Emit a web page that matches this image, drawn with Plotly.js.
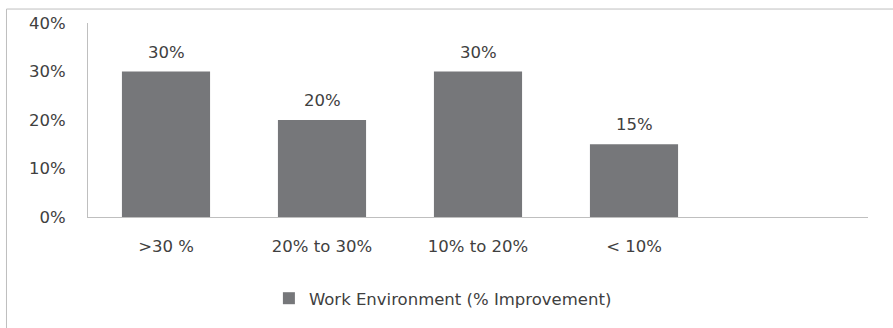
<!DOCTYPE html>
<html><head><meta charset="utf-8">
<script src="https://cdn.plot.ly/plotly-3.0.1.min.js"></script>
<style>html,body{margin:0;padding:0;background:#fff;overflow:hidden}#chart{width:893px;height:328px}</style>
</head><body><div id="chart"></div>
<script>
var categories = ['>30 %', '20% to 30%', '10% to 20%', '< 10%'];
var values = [0.30, 0.20, 0.30, 0.15];
var seriesName = 'Work Environment (% Improvement)';
var yTicks = [0, 0.1, 0.2, 0.3, 0.4];

var textColor = '#404040';
var fontFam = '"DejaVu Sans", sans-serif';
var fs = 16.5;

var trace = {
  type: 'bar', x: categories, y: values, name: seriesName,
  marker: {color: '#76777a'}, width: 0.565, showlegend: true,
  hoverinfo: 'none'
};

var annotations = categories.map(function(c, i){
  return {x: c, y: values[i], xref: 'x', yref: 'y', text: Math.round(values[i]*100) + '%',
    showarrow: false, yanchor: 'bottom', yshift: 8,
    font: {family: fontFam, size: fs, color: textColor}};
});

var layout = {
  width: 893, height: 328,
  margin: {l: 88, r: 25, t: 23, b: 111},
  paper_bgcolor: '#fff', plot_bgcolor: '#fff',
  font: {family: fontFam, size: fs, color: textColor},
  xaxis: {type: 'category', range: [-0.5, 4.5], showline: true, linecolor: '#bfbfbf', linewidth: 1,
    ticks: '', showgrid: false, zeroline: false, ticklabelstandoff: 14,
    tickfont: {family: fontFam, size: fs, color: textColor}},
  yaxis: {range: [0, 0.4], tickvals: yTicks, tickformat: '.0%', showline: true, linecolor: '#bfbfbf',
    linewidth: 1, ticks: '', showgrid: false, zeroline: false, ticklabelstandoff: 18,
    tickfont: {family: fontFam, size: fs, color: textColor}},
  showlegend: true,
  legend: {orientation: 'h', x: 0.455, xanchor: 'center', y: -0.42, yanchor: 'middle',
    font: {family: fontFam, size: fs, color: textColor}, itemwidth: 30},
  annotations: annotations,
  shapes: [{type: 'rect', xref: 'paper', yref: 'paper', x0: -0.1045, x1: 1.2, y0: -0.9, y1: 1.072,
    line: {color: '#bfbfbf', width: 1}, fillcolor: 'rgba(0,0,0,0)', layer: 'below'}]
};

Plotly.newPlot('chart', [trace], layout, {staticPlot: true, displayModeBar: false});
</script></body></html>
